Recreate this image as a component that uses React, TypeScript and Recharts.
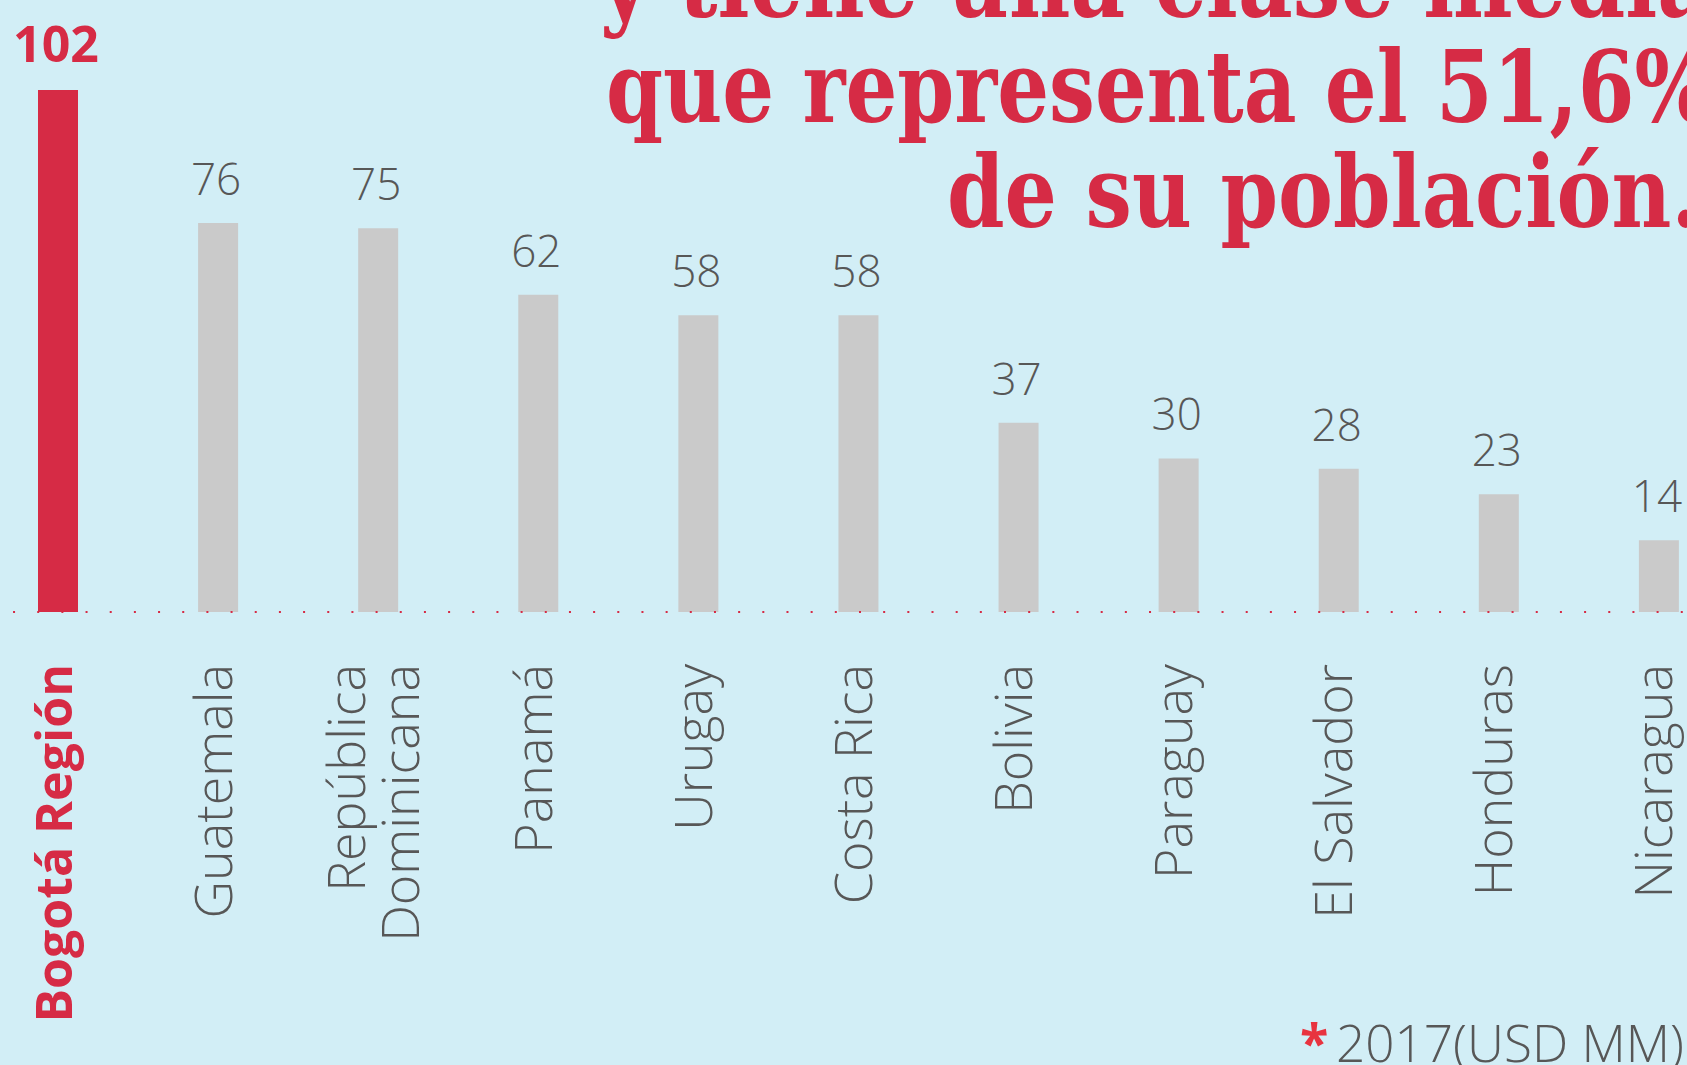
import { BarChart, Bar, XAxis, YAxis, Cell, LabelList, ReferenceLine } from 'recharts'

const RED = '#d62b45'
const GRAY_BAR = '#cacaca'
const GRAY_TEXT = '#575757'
const BG = '#d2eef6'

const COUNTRIES = [
  'Bogotá Región',
  'Guatemala',
  'República\nDominicana',
  'Panamá',
  'Urugay',
  'Costa Rica',
  'Bolivia',
  'Paraguay',
  'El Salvador',
  'Honduras',
  'Nicaragua',
]

const GDP = [102, 76, 75, 62, 58, 58, 37, 30, 28, 23, 14]

const TITLE_LINES = ['y tiene una clase media', 'que representa el 51,6%', 'de su población.']

const chartData = COUNTRIES.map((name, i) => ({ name, value: GDP[i], key: i }))

function CountryTick(props: any) {
  const { x, y, payload, index } = props
  const lines = String(payload.value).split('\n')
  const highlight = index === 0
  const lineGap = 54
  const first = -((lines.length - 1) * lineGap) / 2 - 5 + 18.5
  return (
    <g transform={`translate(${x},${y}) rotate(-90)`}>
      <text
        textAnchor="end"
        fill={highlight ? RED : GRAY_TEXT}
        fontFamily="'Open Sans', sans-serif"
        fontWeight={highlight ? 700 : 300}
        fontSize={highlight ? 50 : 52}
      >
        {lines.map((l, i) => (
          <tspan key={i} x={0} y={first + i * lineGap}>{l}</tspan>
        ))}
      </text>
    </g>
  )
}

function ValueLabel(props: any) {
  const { x, y, width, value, index } = props
  const highlight = index === 0
  return (
    <text
      x={x + width / 2 - 2}
      y={y - 28}
      textAnchor="middle"
      fill={highlight ? RED : GRAY_TEXT}
      fontFamily="'Open Sans', sans-serif"
      fontWeight={highlight ? 700 : 300}
      fontSize={highlight ? 50 : 44}
    >
      {value}
    </text>
  )
}

export default function App() {
  return (
    <div style={{ position: 'absolute', left: 0, top: 0, width: 1687, height: 1065, overflow: 'hidden', background: BG }}>
      <BarChart
        width={1687}
        height={1065}
        data={chartData}
        margin={{ top: 49, left: -22, right: -52, bottom: 0 }}
        barCategoryGap={0}
      >
        <XAxis
          dataKey="name"
          axisLine={false}
          tickLine={false}
          tickSize={0}
          tickMargin={52}
          interval={0}
          height={453}
          tick={<CountryTick />}
        />
        <YAxis hide domain={[0, 110]} />
        <ReferenceLine y={0} stroke={RED} strokeWidth={2} strokeDasharray="2 22.17" strokeDashoffset={13.3} />
        <Bar dataKey="value" barSize={40} isAnimationActive={false}>
          {chartData.map((d) => (
            <Cell key={d.key} fill={d.key === 0 ? RED : GRAY_BAR} />
          ))}
          <LabelList dataKey="value" content={<ValueLabel />} />
        </Bar>
      </BarChart>
      <svg width={1687} height={1065} style={{ position: 'absolute', left: 0, top: 0, pointerEvents: 'none' }}>
        <g fill={RED} fontFamily="'DejaVu Serif Condensed', 'DejaVu Serif', serif" fontWeight={700} fontSize={100}>
          <text x={600} y={17} textLength={1112} lengthAdjust="spacingAndGlyphs">{TITLE_LINES[0]}</text>
          <text x={606} y={122} textLength={1106} lengthAdjust="spacingAndGlyphs">{TITLE_LINES[1]}</text>
          <text x={947} y={227} textLength={753} lengthAdjust="spacingAndGlyphs">{TITLE_LINES[2]}</text>
        </g>
        <text x={1300} y={1062} fontFamily="'Open Sans', sans-serif" fontSize={52} fontWeight={700} fill="#e8333f">*</text>
        <text x={1336} y={1062} textLength={348} lengthAdjust="spacingAndGlyphs" fontFamily="'Open Sans', sans-serif" fontSize={52} fill={GRAY_TEXT} fontWeight={300}>
          2017(USD MM)
        </text>
      </svg>
    </div>
  )
}
